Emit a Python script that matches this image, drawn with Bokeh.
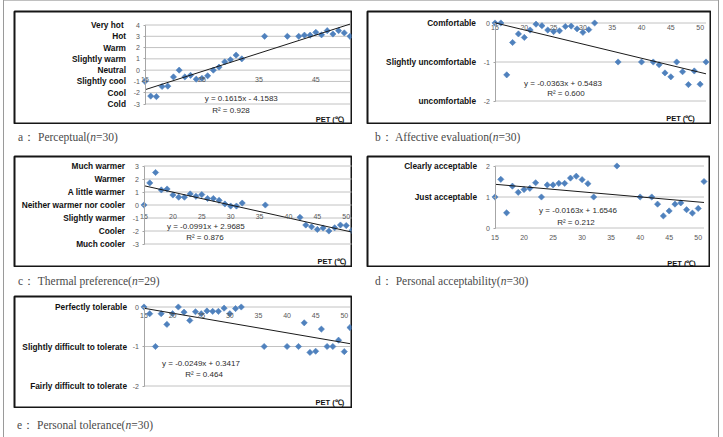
import numpy as np
from bokeh.plotting import figure
from bokeh.models import Range1d, FixedTicker, LinearAxis, Label, Div
from bokeh.layouts import column, row
from bokeh.embed import file_html
from bokeh.resources import INLINE

# ---------------- data ----------------
pet = [15, 16, 17, 18, 19, 20, 21, 22, 23, 24, 25, 26, 27, 28, 29, 30, 31, 32,
       36, 40, 42, 43, 44, 45, 46, 47, 48, 49, 50, 51]
pet_c = [15, 16, 17, 18, 19, 20, 21, 22, 23, 24, 25, 26, 27, 28, 29, 30, 31, 32,
         36, 42, 43, 44, 45, 46, 47, 48, 49, 50, 51]

perceptual = [-1.0, -2.3, -2.35, -1.45, -1.42, -0.6, 0.0, -0.6, -0.46, -0.8, -0.73, -0.5,
              0.0, 0.27, 0.73, 0.92, 1.33, 1.0, 3.0, 3.0, 3.0, 3.1, 3.1, 3.35, 3.13, 3.5,
              3.2, 3.5, 3.3, 3.0]
affective = [0.0, 0.0, -1.33, -0.5, -0.28, -0.37, -0.18, -0.03, -0.07, -0.18, -0.22, -0.2,
             -0.09, -0.08, -0.15, -0.24, -0.17, 0.0, -1.0, -1.0, -1.0, -1.07, -1.28, -1.38,
             -1.0, -1.25, -1.58, -1.23, -1.57, -1.0]
preference = [0.0, 1.7, 2.5, 1.16, 1.23, 0.77, 0.6, 0.6, 0.85, 0.67, 0.8, 0.5, 0.5, 0.36,
              0.08, -0.08, -0.08, 0.15, 0.0, -0.95, -1.54, -1.68, -1.88, -1.77, -2.0, -1.75,
              -1.54, -1.58, -1.96]
acceptability = [1.0, 1.57, 0.49, 1.35, 1.15, 1.24, 1.28, 1.46, 1.0, 1.39, 1.39, 1.44, 1.44,
                 1.61, 1.67, 1.56, 1.43, 1.0, 2.0, 1.0, 1.0, 0.77, 0.39, 0.55, 0.77, 0.81,
                 0.59, 0.48, 0.63, 1.5]
tolerance = [0.0, -0.17, -1.0, -0.17, -0.44, -0.17, 0.0, -0.13, -0.34, -0.12, -0.17, -0.1,
             -0.11, -0.11, -0.03, -0.17, -0.04, 0.0, -1.0, -1.0, -1.0, -0.4, -1.15, -1.12,
             -0.56, -1.0, -1.0, -0.84, -1.13, -0.52]

slopes = [0.1615, -0.0363, -0.0991, -0.0163, -0.0249]
intercepts = [-4.1583, 0.5483, 2.9685, 1.6546, 0.3417]
equations = ["y = 0.1615x - 4.1583", "y = -0.0363x + 0.5483", "y = -0.0991x + 2.9685",
             "y = -0.0163x + 1.6546", "y = -0.0249x + 0.3417"]
r2_texts = ["R\u00b2 = 0.928", "R\u00b2 = 0.600", "R\u00b2 = 0.876", "R\u00b2 = 0.212", "R\u00b2 = 0.464"]

x_axis_range = (15, 51)

yticks_a = [4, 3, 2, 1, 0, -1, -2, -3]
ylabels_a = ["Very  hot", "Hot", "Warm", "Slightly warm", "Neutral", "Slightly cool", "Cool", "Cold"]
yticks_b = [0, -1, -2]
ylabels_b = ["Comfortable", "Slightly uncomfortable", "uncomfortable"]
yticks_c = [3, 2, 1, 0, -1, -2, -3]
ylabels_c = ["Much warmer", "Warmer", "A little warmer", "Neither warmer nor cooler",
             "Slightly warmer", "Cooler", "Much cooler"]
yticks_d = [2, 1, 0]
ylabels_d = ["Clearly acceptable", "Just acceptable", ""]
yticks_e = [0, -1, -2]
ylabels_e = ["Perfectly tolerable", "Slightly difficult to tolerate", "Fairly difficult to tolerate"]

xticks_a = [15, 25, 35, 45]
xticks_5 = [15, 20, 25, 30, 35, 40, 45, 50]

captions = ["a\uff1a Perceptual(<i>n</i>=30)", "b\uff1a Affective evaluation(<i>n</i>=30)",
            "c\uff1a Thermal preference(<i>n</i>=29)", "d\uff1a Personal acceptability(<i>n</i>=30)",
            "e\uff1a Personal tolerance(<i>n</i>=30)"]

# ---------------- style ----------------
BLUE = "#4f81bd"
GRID = "#c2c2c2"
AXIS = "#a6a6a6"
SANS = "Liberation Sans"


def make_panel(xs, ys, k, yticks, ylabels, box, plot, xticks, xaxis_loc, xstandoff,
               eq_pos, r2_pos, pet_pos, cat_gap):
    bx, by, bw, bh = box              # chart box in page pixels
    L, R, T, B = [v + 0.5 for v in plot]   # plot area in page pixels (pixel-centre aligned)
    ylo, yhi = min(yticks), max(yticks)
    x0, x1 = x_axis_range
    # frame = box inset by 1px; map plot area to data ranges
    fl, fr, ft, fb = bx + 1, bx + bw - 1, by + 1, by + bh - 1
    sx = (x1 - x0) / (R - L)
    sy = (yhi - ylo) / (B - T)
    xr = Range1d(x0 - (L - fl) * sx, x1 + (fr - R) * sx)
    yr = Range1d(ylo - (fb - B) * sy, yhi + (T - ft) * sy)

    p = figure(width=bw, height=bh, x_range=xr, y_range=yr,
               output_backend="svg", toolbar_location=None,
               min_border_left=1, min_border_right=1, min_border_top=1, min_border_bottom=1)
    p.background_fill_color = "white"
    p.border_fill_color = "white"
    p.outline_line_color = "#161616"
    p.outline_line_width = 2
    p.xgrid.visible = False
    p.ygrid.visible = False

    # horizontal grid lines across the plot area
    p.segment(x0=[x0] * len(yticks), x1=[x1] * len(yticks), y0=yticks, y1=yticks,
              line_color=GRID, line_width=1)

    # numeric value axis
    ya = p.yaxis[0]
    ya.fixed_location = x0
    ya.bounds = (ylo, yhi)
    ya.ticker = FixedTicker(ticks=yticks)
    ya.major_label_overrides = {t: str(t) for t in yticks}
    ya.axis_line_color = AXIS
    ya.major_tick_line_color = AXIS
    ya.major_tick_out = 2
    ya.major_tick_in = 0
    ya.minor_tick_line_color = None
    ya.major_label_standoff = 3
    ya.major_label_text_font = SANS
    ya.major_label_text_font_size = "7px"
    ya.major_label_text_color = "#595959"

    # category names axis
    ax2 = LinearAxis(ticker=FixedTicker(ticks=yticks), fixed_location=x0, bounds=(ylo, yhi),
                     major_label_overrides={t: lab for t, lab in zip(yticks, ylabels)},
                     axis_line_color=None, major_tick_line_color=None, major_tick_out=0,
                     major_tick_in=0, minor_tick_line_color=None, major_label_standoff=cat_gap,
                     major_label_text_font=SANS, major_label_text_font_style="bold",
                     major_label_text_font_size="8.3px", major_label_text_color="#111111")
    p.add_layout(ax2, "left")

    # PET axis labels
    xa = p.xaxis[0]
    xa.fixed_location = xaxis_loc
    xa.ticker = FixedTicker(ticks=xticks)
    xa.axis_line_color = None
    xa.major_tick_line_color = None
    xa.major_tick_out = 0
    xa.major_tick_in = 0
    xa.minor_tick_line_color = None
    xa.major_label_standoff = xstandoff
    xa.major_label_text_font = SANS
    xa.major_label_text_font_size = "7px"
    xa.major_label_text_color = "#595959"

    p.scatter(xs, ys, marker="square", size=4.4, angle=np.pi / 4,
              fill_color=BLUE, line_color=BLUE, line_width=0.6)
    lx = [min(xs), max(xs)]
    ly = [slopes[k] * v + intercepts[k] for v in lx]
    p.line(lx, ly, line_color="#1a1a1a", line_width=1)

    p.add_layout(Label(x=eq_pos[0], y=eq_pos[1], text=equations[k], text_align="center",
                       text_baseline="middle", text_font=SANS, text_font_size="8px",
                       text_color="#2b2b2b"))
    p.add_layout(Label(x=r2_pos[0], y=r2_pos[1], text=r2_texts[k], text_align="center",
                       text_baseline="middle", text_font=SANS, text_font_size="8px",
                       text_color="#2b2b2b"))
    p.add_layout(Label(x=pet_pos[0], y=pet_pos[1], text="PET (\u2103)", text_align="right",
                       text_baseline="middle", text_font=SANS, text_font_style="bold",
                       text_font_size="7.5px", text_color="#111111"))
    return p


pa = make_panel(pet, perceptual, 0, yticks_a, ylabels_a, (13, 10, 339, 114), (144, 349, 24, 103),
                xticks_a, -1, -4, (31.9, -2.55), (30.1, -3.62), (50.0, -4.33), 19)
pb = make_panel(pet, affective, 1, yticks_b, ylabels_b, (366, 10, 345, 114), (494, 705, 22, 100),
                xticks_5, 0, 2, (26.6, -1.54), (27.1, -1.82), (49.1, -2.46), 19)
pc = make_panel(pet_c, preference, 2, yticks_c, ylabels_c, (13, 155, 339, 112), (143, 351, 165, 243),
                xticks_5, -1, -4, (25.7, -1.67), (25.55, -2.52), (50.0, -4.31), 19)
pd_ = make_panel(pet, acceptability, 3, yticks_d, ylabels_d, (366, 155, 344, 112), (494, 703, 165, 227),
                 xticks_5, 0, 7, (29.3, 0.58), (28.95, 0.19), (49.6, -1.13), 18)
pe = make_panel(pet, tolerance, 4, yticks_e, ylabels_e, (13, 295, 339, 113), (143, 349, 306, 385),
                xticks_5, 0, 6, (24.96, -1.43), (25.5, -1.72), (50.0, -2.43), 17)


def caption(txt, w, h, ml, pl, pt):
    html = ('<div style="padding-left:%dpx;padding-top:%dpx;font-family:\'Liberation Serif\';'
            'font-size:11.5px;line-height:12px;color:#4a4a4a;white-space:nowrap">%s</div>'
            % (pl, pt, txt))
    return Div(text=html, width=w, height=h, margin=(0, 0, 0, ml))


pa.margin = (10, 0, 0, 10)
pb.margin = (10, 0, 0, 14)
pc.margin = (0, 0, 0, 10)
pd_.margin = (0, 0, 0, 14)
pe.margin = (0, 0, 0, 10)

cap_row1 = row(caption(captions[0], 339, 31, 10, 5, 7), caption(captions[1], 345, 31, 14, 9, 7),
               spacing=0, margin=0)
cap_row2 = row(caption(captions[2], 339, 28, 10, 5, 8), caption(captions[3], 344, 28, 14, 9, 8),
               spacing=0, margin=0)
cap_row3 = row(caption(captions[4], 339, 29, 10, 4, 11), spacing=0, margin=0)

root = column(row(pa, pb, spacing=0, margin=0), cap_row1,
              row(pc, pd_, spacing=0, margin=0), cap_row2,
              row(pe, spacing=0, margin=0), cap_row3,
              spacing=0, width=716, height=437, margin=(0, 0, 0, 3))
root.styles = {"box-shadow": "inset 1px 0 0 #9a9a9a, inset -1px 0 0 #9a9a9a, inset 0 1px 0 #c0c0c0"}

open("out.html", "w").write(file_html(root, INLINE))
